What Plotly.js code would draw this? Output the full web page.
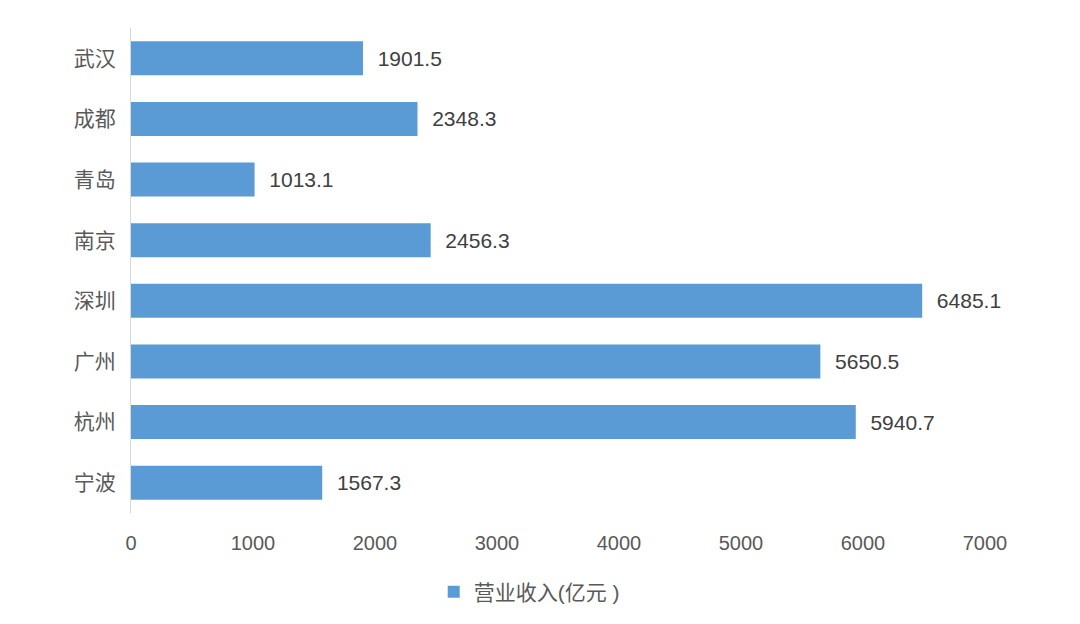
<!DOCTYPE html>
<html>
<head>
<meta charset="utf-8">
<script src="https://cdn.plot.ly/plotly-3.0.1.min.js"></script>
<style>html,body{margin:0;padding:0;background:#fff;}#chart{width:1080px;height:624px;}</style>
</head>
<body>
<div id="chart"></div>
<script>
const cities = ['武汉', '成都', '青岛', '南京', '深圳', '广州', '杭州', '宁波'];
const revenue = [1901.5, 2348.3, 1013.1, 2456.3, 6485.1, 5650.5, 5940.7, 1567.3];
const seriesName = '营业收入(亿元 )';
const xTicks = [0, 1000, 2000, 3000, 4000, 5000, 6000, 7000];

const font = 'Liberation Sans, Arial, "Noto Sans CJK SC", sans-serif';

const trace = {
  type: 'bar',
  orientation: 'h',
  y: cities,
  x: revenue,
  name: seriesName,
  marker: {color: '#5b9bd5'},
  text: revenue.map(v => '  ' + v.toFixed(1)),
  textposition: 'outside',
  textfont: {family: font, size: 21, color: '#404040'},
  cliponaxis: false,
  hoverinfo: 'x+y'
};

const layout = {
  width: 1080,
  height: 624,
  margin: {l: 131, r: 95, t: 28, b: 111},
  paper_bgcolor: '#ffffff',
  plot_bgcolor: '#ffffff',
  bargap: 0.44,
  showlegend: true,
  legend: {
    orientation: 'h',
    xref: 'container', yref: 'container',
    x: 0.49, xanchor: 'center',
    y: 0.051, yanchor: 'middle',
    itemwidth: 30,
    font: {family: font, size: 21, color: '#595959'}
  },
  xaxis: {
    range: [0, 7000],
    tickvals: xTicks,
    ticktext: xTicks.map(String),
    showgrid: false,
    zeroline: false,
    showline: false,
    ticks: '',
    ticklabelstandoff: 16,
    tickfont: {family: font, size: 20, color: '#595959'}
  },
  yaxis: {
    autorange: 'reversed',
    showgrid: false,
    zeroline: false,
    showline: true,
    linecolor: '#d9d9d9',
    linewidth: 1,
    ticks: '',
    ticklabelstandoff: 10,
    tickfont: {family: font, size: 21, color: '#595959'}
  }
};

Plotly.newPlot('chart', [trace], layout, {displayModeBar: false, staticPlot: true});
</script>
</body>
</html>
